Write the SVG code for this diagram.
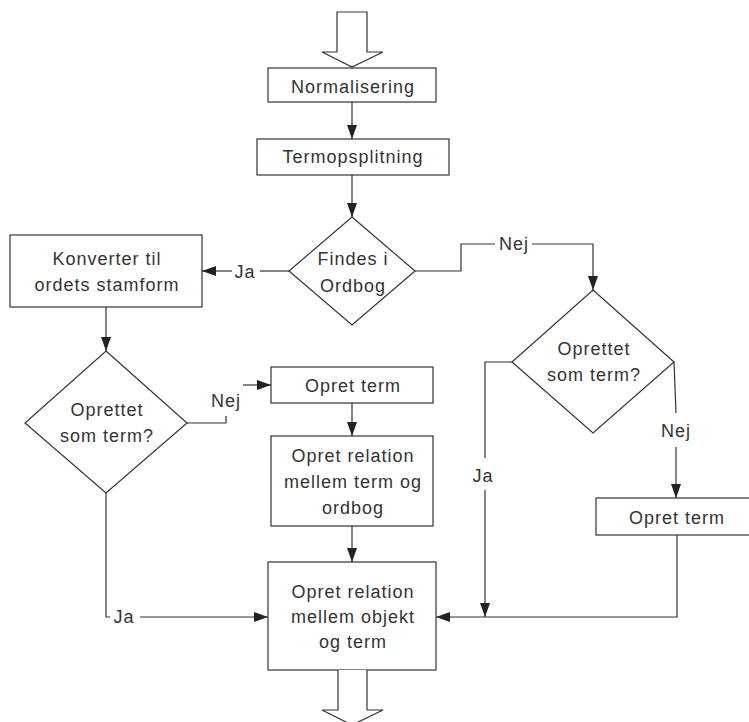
<svg xmlns="http://www.w3.org/2000/svg" width="749" height="722" viewBox="0 0 749 722">
<style>
.box{fill:#fff;stroke:#333;stroke-width:1.2}
.ln{fill:none;stroke:#333;stroke-width:1.2}
.arr{fill:none;stroke:#333;stroke-width:1.2;marker-end:url(#ah)}
text{font-family:"Liberation Sans",Arial,sans-serif;font-size:18px;letter-spacing:1px;fill:#333;text-anchor:middle}
</style>
<defs>
<marker id="ah" markerUnits="userSpaceOnUse" markerWidth="14" markerHeight="10" refX="14" refY="5" orient="auto">
<path d="M0,0 L14,5 L0,10 Z" fill="#222"/>
</marker>
</defs>
<rect width="749" height="722" fill="#fff"/>
<g id="start"><path class="box" d="M337,12 H367 V52 H383 L352,67 L322,52 H337 Z"/></g>
<g id="normalisering"><rect class="box" x="268" y="68" width="168" height="34"/><text x="353" y="93">Normalisering</text></g>
<g id="termopsplitning"><rect class="box" x="257" y="139" width="192" height="36"/><text x="353" y="163">Termopsplitning</text></g>
<g id="findes"><path class="box" d="M352,217 L415,271 L352,325 L289,271 Z"/><text x="353" y="265">Findes i</text><text x="353" y="292">Ordbog</text></g>
<g id="konverter"><rect class="box" x="10" y="235" width="192" height="72"/><text x="107" y="265">Konverter til</text><text x="107" y="291">ordets stamform</text></g>
<g id="oprettet1"><path class="box" d="M106,351 L187,423 L106,493 L25,423 Z"/><text x="107" y="416">Oprettet</text><text x="107" y="442">som term?</text></g>
<g id="opretterm1"><rect class="box" x="271" y="367" width="162" height="36"/><text x="353" y="392">Opret term</text></g>
<g id="relation1"><rect class="box" x="271" y="436" width="162" height="90"/><text x="353" y="462">Opret relation</text><text x="353" y="488">mellem term og</text><text x="353" y="514">ordbog</text></g>
<g id="oprettet2"><path class="box" d="M593,290 L674,362 L593,433 L512,362 Z"/><text x="594" y="355">Oprettet</text><text x="594" y="381">som term?</text></g>
<g id="opretterm2"><rect class="box" x="596" y="498" width="162" height="37"/><text x="677" y="524">Opret term</text></g>
<g id="relation2"><rect class="box" x="268" y="562" width="168" height="108"/><text x="353" y="598">Opret relation</text><text x="353" y="623">mellem objekt</text><text x="353" y="648">og term</text></g>
<g id="end"><path class="box" d="M338,670 V710 H322 L352,725 L383,710 H367 V670"/></g>
<g id="connectors">
<path class="arr" d="M352,102 V139"/>
<path class="arr" d="M352,175 V217"/>
<path class="ln" d="M289,271 H260"/>
<path class="arr" d="M232,271 H202"/>
<text x="245" y="278">Ja</text>
<path class="arr" d="M106,307 V351"/>
<path class="ln" d="M187,423 H226 V416"/>
<path class="arr" d="M243,385 H271"/>
<text x="226" y="407">Nej</text>
<path class="arr" d="M352,403 V436"/>
<path class="arr" d="M352,526 V562"/>
<path class="ln" d="M106,493 V617 H110"/>
<path class="arr" d="M140,617 H268"/>
<text x="124" y="623">Ja</text>
<path class="ln" d="M415,271 H461 V244 H495"/>
<path class="arr" d="M532,244 H593 V290"/>
<text x="514" y="250">Nej</text>
<path class="ln" d="M512,362 H485 V458"/>
<path class="arr" d="M485,490 V617"/>
<text x="483" y="482">Ja</text>
<path class="ln" d="M674,362 L676,413"/>
<path class="arr" d="M676,447 V498"/>
<text x="676" y="437">Nej</text>
<path class="arr" d="M677,535 V617 H436"/>
</g>
</svg>
